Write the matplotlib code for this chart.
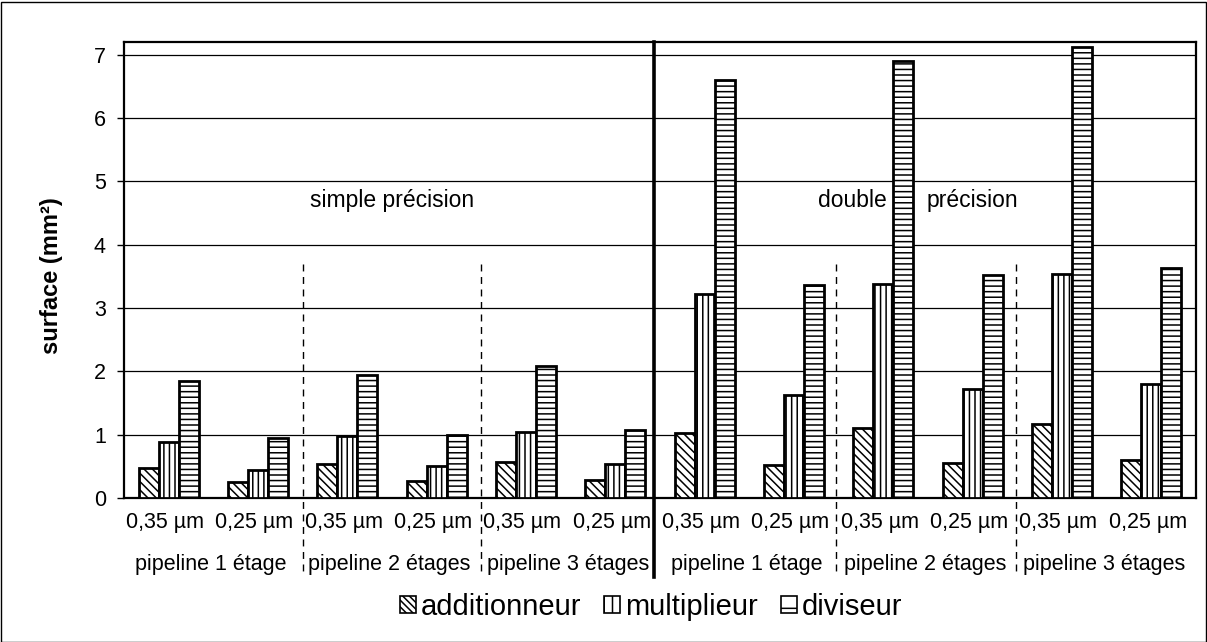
import matplotlib
matplotlib.use("Agg")
import matplotlib.pyplot as plt
import numpy as np
from matplotlib.patches import Patch, Rectangle

plt.rcParams['font.family'] = ['Liberation Sans', 'DejaVu Sans']
plt.rcParams['hatch.linewidth'] = 1.1

sizes = ["0,35 µm", "0,25 µm"] * 6
groups = ["pipeline 1 étage", "pipeline 2 étages", "pipeline 3 étages"] * 2
series = ["additionneur", "multiplieur", "diviseur"]
additionneur = [0.48, 0.25, 0.53, 0.27, 0.57, 0.29, 1.02, 0.52, 1.10, 0.55, 1.17, 0.60]
multiplieur = [0.88, 0.44, 0.98, 0.50, 1.04, 0.54, 3.22, 1.63, 3.38, 1.72, 3.53, 1.80]
diviseur = [1.85, 0.95, 1.95, 1.00, 2.08, 1.07, 6.60, 3.36, 6.90, 3.52, 7.12, 3.63]
yticks = [0, 1, 2, 3, 4, 5, 6, 7]

W, H = 1207, 642
fig = plt.figure(figsize=(W / 100, H / 100), dpi=100)
ax = fig.add_axes([124 / W, 1 - 498 / H, (1196 - 124) / W, (498 - 42) / H])

x = np.arange(len(sizes))
w = 0.225
hatches = ['\\\\\\\\', '|||', '---']
vals = [additionneur, multiplieur, diviseur]
for i, (name, v, h) in enumerate(zip(series, vals, hatches)):
    ax.bar(x + (i - 1) * w, v, w, color='white', edgecolor='black',
           linewidth=2, hatch=h, label=name, zorder=3)

ax.set_xlim(-0.5, len(sizes) - 0.5)
ax.set_ylim(0, 7.2)
ax.set_yticks(yticks)
ax.set_yticklabels([str(t) for t in yticks], fontsize=15.5)
ax.yaxis.grid(True, color='black', linewidth=0.9, zorder=0)
ax.set_axisbelow(True)
ax.set_xticks([])
ax.tick_params(axis='y', direction='out', length=5, width=1.0, pad=8)
for s in ax.spines.values():
    s.set_linewidth(1.6)

# category labels
xt = ax.get_xaxis_transform()
for xi, lab in zip(x, sizes):
    ax.text(xi - 0.04, -0.066, lab, transform=xt, ha='center', va='baseline', fontsize=15.5)
for gi, lab in enumerate(groups):
    ax.text(2 * gi + 0.47, -0.157, lab, transform=xt, ha='center', va='baseline', fontsize=15.5)

# separators
for xs in [1.5, 3.5, 7.47, 9.48]:
    ax.plot([xs, xs], [3.7 / 7.2, -0.165], transform=xt, color='black',
            linestyle=(0, (5, 4)), linewidth=1.0, clip_on=False, zorder=4)
ax.plot([5.43, 5.43], [1.0, -0.174], transform=xt, color='black',
        linewidth=2.6, clip_on=False, zorder=5)

ax.text(2.5, 4.6, "simple précision", ha='center', va='baseline', fontsize=16.5)
ax.text(8.04, 4.6, "double", ha='right', va='baseline', fontsize=16.5)
ax.text(8.48, 4.6, "précision", ha='left', va='baseline', fontsize=16.5)

fig.text(52 / W, 1 - 276 / H, "surface (mm²)", rotation=90, ha='center',
         va='center', fontsize=17, fontweight='bold')

handles = [Patch(facecolor='white', edgecolor='black', hatch=h, linewidth=1.2)
           for h in ['\\\\\\\\\\', '||', '-']]
fig.legend(handles, series, loc='center', bbox_to_anchor=(651 / W, 1 - 607 / H),
           ncol=3, frameon=False, fontsize=21, handlelength=0.55, handleheight=0.55,
           handletextpad=0.15, columnspacing=0.8, borderaxespad=0, borderpad=0)

fig.add_artist(Rectangle((0.5 / W, 0.5 / H), 1 - 2 / W, 1 - 2 / H,
                         transform=fig.transFigure, fill=False,
                         edgecolor='black', linewidth=1.0))

fig.savefig("out.png", dpi=100)
